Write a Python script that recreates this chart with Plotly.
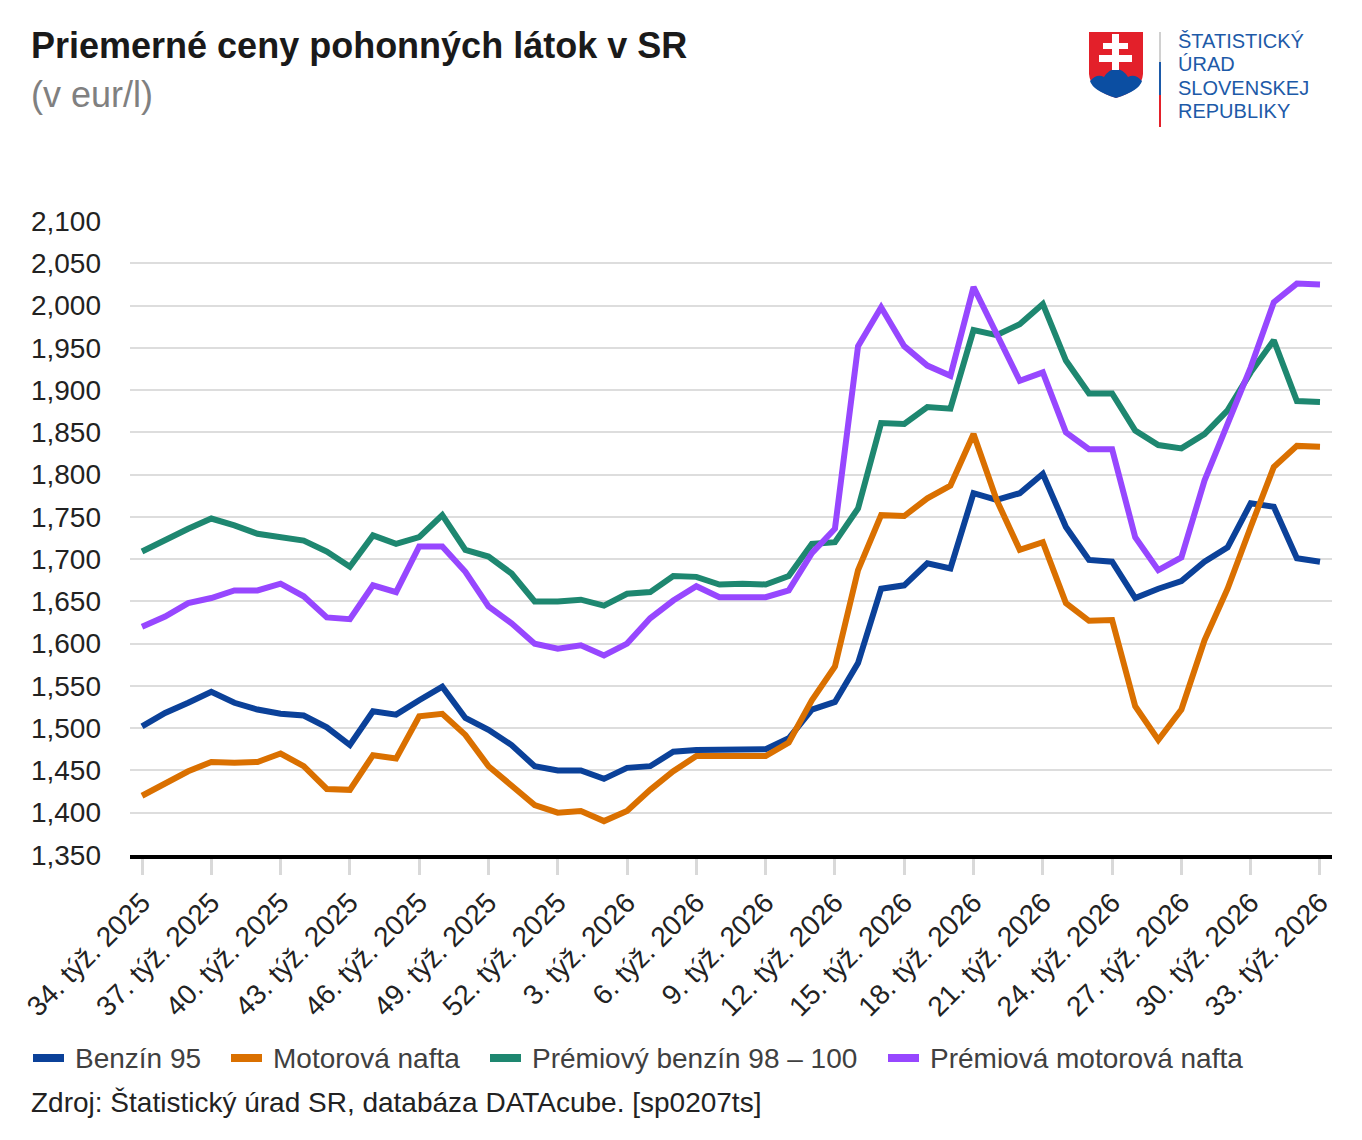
import plotly.graph_objects as go

# ---------------- data ----------------
weeks_2025 = [34, 35, 36, 37, 38, 39, 40, 41, 42, 43, 44, 45, 46, 47, 48, 49, 50, 51, 52]
weeks_2026 = [1, 2, 3, 4, 5, 6, 7, 8, 9, 10, 11, 12, 13, 14, 15, 16, 17, 18, 19, 20, 21,
              22, 23, 24, 25, 26, 27, 28, 29, 30, 31, 32, 33]
categories = [f"{w}. týž. 2025" for w in weeks_2025] + [f"{w}. týž. 2026" for w in weeks_2026]
tick_labels = categories[::3]

benzin95 = [1.502, 1.518, 1.530, 1.543, 1.530, 1.522, 1.517, 1.515, 1.501, 1.480,
            1.520, 1.516, 1.533, 1.549, 1.512, 1.498, 1.480, 1.455, 1.450, 1.450,
            1.440, 1.453, 1.455, 1.472, 1.474, 1.474, 1.474, 1.475, 1.488, 1.522,
            1.531, 1.577, 1.665, 1.669, 1.695, 1.689, 1.778, 1.770, 1.778, 1.801,
            1.738, 1.699, 1.697, 1.654, 1.665, 1.674, 1.697, 1.714, 1.766, 1.762,
            1.701, 1.697]
nafta = [1.420, 1.435, 1.449, 1.460, 1.459, 1.460, 1.470, 1.455, 1.428, 1.427,
         1.468, 1.464, 1.514, 1.517, 1.492, 1.455, 1.431, 1.409, 1.400, 1.402,
         1.390, 1.402, 1.427, 1.449, 1.467, 1.467, 1.467, 1.467, 1.483, 1.533,
         1.573, 1.687, 1.752, 1.751, 1.772, 1.787, 1.848, 1.770, 1.711, 1.720,
         1.648, 1.627, 1.628, 1.526, 1.486, 1.522, 1.604, 1.665, 1.738, 1.809,
         1.834, 1.833]
premium_benzin = [1.709, 1.723, 1.736, 1.748, 1.740, 1.730, 1.726, 1.722, 1.709, 1.691,
                  1.728, 1.718, 1.726, 1.752, 1.711, 1.703, 1.683, 1.650, 1.650, 1.652,
                  1.645, 1.659, 1.661, 1.680, 1.679, 1.670, 1.671, 1.670, 1.680, 1.718,
                  1.720, 1.760, 1.861, 1.860, 1.880, 1.878, 1.971, 1.965, 1.978, 2.002,
                  1.935, 1.896, 1.896, 1.852, 1.835, 1.831, 1.848, 1.876, 1.921, 1.959,
                  1.887, 1.886]
premium_nafta = [1.620, 1.632, 1.648, 1.654, 1.663, 1.663, 1.671, 1.656, 1.631, 1.629,
                 1.669, 1.661, 1.715, 1.715, 1.685, 1.644, 1.624, 1.600, 1.594, 1.598,
                 1.586, 1.600, 1.630, 1.651, 1.668, 1.655, 1.655, 1.655, 1.663, 1.707,
                 1.736, 1.952, 1.998, 1.952, 1.929, 1.917, 2.022, 1.965, 1.911, 1.921,
                 1.850, 1.830, 1.830, 1.726, 1.687, 1.702, 1.793, 1.860, 1.927, 2.004,
                 2.026, 2.025]

series_names = ["Benzín 95", "Motorová nafta", "Prémiový benzín 98 – 100", "Prémiová motorová nafta"]
series_values = [benzin95, nafta, premium_benzin, premium_nafta]
series_colors = ["#0B4199", "#DA7000", "#1E8770", "#9747FF"]

# ---------------- layout geometry ----------------
OFF = 8                      # page body margin in the browser
W, H = 1362 - 2 * OFF, 1140 - 2 * OFF
PLOT_L, PLOT_R, PLOT_T, PLOT_B = 130, 1332, 221, 855   # target screen pixels
L, T = PLOT_L - OFF, PLOT_T - OFF
R = W - (PLOT_R - OFF)
B = H - (PLOT_B - OFF)
PW, PH = PLOT_R - PLOT_L, PLOT_B - PLOT_T
FONT = "Liberation Sans, Arial, sans-serif"


def px(x):
    return (x - PLOT_L) / PW


def py(y):
    return (PLOT_B - y) / PH


fig = go.Figure()
for name, vals, col in zip(series_names, series_values, series_colors):
    fig.add_trace(go.Scatter(x=categories, y=vals, name=name, mode="lines",
                             line=dict(color=col, width=6), showlegend=False))

annotations = [
    dict(text="<b>Priemerné ceny pohonných látok v SR</b>", x=px(29), y=py(46),
         font=dict(size=36, color="#1a1a1a", family=FONT)),
    dict(text="(v eur/l)", x=px(29), y=py(95), font=dict(size=36, color="#808080", family=FONT)),
    dict(text="Zdroj: Štatistický úrad SR, databáza DATAcube. [sp0207ts]", x=px(29), y=py(1102),
         font=dict(size=28, color="#222222", family=FONT)),
]
shapes = []

# custom legend
leg_sym_x = [33, 231, 490, 888]
for name, col, sx in zip(series_names, series_colors, leg_sym_x):
    shapes.append(dict(type="rect", xref="paper", yref="paper", x0=px(sx), x1=px(sx + 31),
                       y0=py(1062), y1=py(1054), fillcolor=col, line=dict(width=0)))
    annotations.append(dict(text=name, x=px(sx + 40), y=py(1058),
                            font=dict(size=28, color="#404040", family=FONT)))

# logo: shield
red_path = "M{},{} L{},{} L{},{} Q{},{} {},{} Q{},{} {},{} L{},{} Z".format(
    px(1089), py(32), px(1143), py(32), px(1143), py(74),
    px(1142), py(90), px(1116), py(98), px(1090), py(90), px(1089), py(74),
    px(1089), py(32))
shapes.append(dict(type="path", xref="paper", yref="paper", path=red_path,
                   fillcolor="#E3202A", line=dict(width=0)))
blue_path = ("M{},{} Q{},{} {},{} Q{},{} {},{} Q{},{} {},{} Q{},{} {},{} "
             "Q{},{} {},{} Q{},{} {},{} Z").format(
    px(1090), py(81), px(1097), py(73), px(1104), py(77),
    px(1109), py(69), px(1116), py(69), px(1123), py(69), px(1128), py(77),
    px(1135), py(73), px(1142), py(81),
    px(1139), py(91), px(1116), py(98), px(1093), py(91), px(1090), py(81))
shapes.append(dict(type="path", xref="paper", yref="paper", path=blue_path,
                   fillcolor="#0B4EA2", line=dict(width=0)))
# double cross
for (x0, x1, y0, y1) in [(1112, 1119, 34, 70), (1103, 1128, 43, 49), (1099, 1132, 55, 62)]:
    shapes.append(dict(type="rect", xref="paper", yref="paper", x0=px(x0), x1=px(x1),
                       y0=py(y1), y1=py(y0), fillcolor="white", line=dict(width=0)))
# vertical divider
for (y0, y1, c) in [(32, 62, "#d0d0d0"), (62, 95, "#1D5AA8"), (95, 127, "#E3202A")]:
    shapes.append(dict(type="line", xref="paper", yref="paper", x0=px(1160), x1=px(1160),
                       y0=py(y0), y1=py(y1), line=dict(color=c, width=2)))
for txt, yy in [("ŠTATISTICKÝ", 41), ("ÚRAD", 64), ("SLOVENSKEJ", 88), ("REPUBLIKY", 111)]:
    annotations.append(dict(text=txt, x=px(1176), y=py(yy),
                            font=dict(size=20, color="#1D5AA8", family=FONT)))

for a in annotations:
    a.update(xref="paper", yref="paper", xanchor="left", yanchor="middle", showarrow=False)

fig.update_layout(
    width=W, height=H,
    margin=dict(l=L, r=R, t=T, b=B, pad=0),
    paper_bgcolor="white", plot_bgcolor="white",
    separators=",.",
    font=dict(family=FONT, size=28, color="#222222"),
    showlegend=False,
    annotations=annotations,
    shapes=shapes,
)
fig.update_xaxes(
    type="category", range=[-0.52, len(categories) - 1 + 0.52],
    tickmode="array", tickvals=tick_labels, ticktext=tick_labels,
    tickangle=-45, tickfont=dict(size=28, color="#222222"),
    showline=True, linecolor="#000000", linewidth=4,
    ticks="outside", ticklen=16, tickwidth=3, tickcolor="#d9d9d9",
    showgrid=False, zeroline=False,
)
fig.update_yaxes(
    range=[1.3499, 2.1001], tick0=1.35, dtick=0.05, tickformat=".3f",
    showgrid=True, gridcolor="#dddddd", gridwidth=2,
    zeroline=False, showline=False, ticks="",
    ticklabelstandoff=28, tickfont=dict(size=28, color="#222222"),
)

fig.write_html("out.html")
